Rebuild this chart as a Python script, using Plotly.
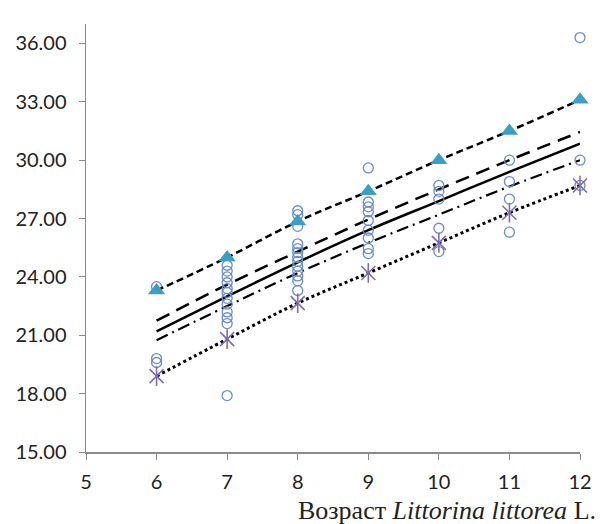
import plotly.graph_objects as go

# Observed shell sizes (circles)
obs_x = [6, 6, 6,
         7, 7, 7, 7, 7, 7, 7, 7, 7, 7, 7, 7,
         8, 8, 8, 8, 8, 8, 8, 8, 8, 8, 8, 8, 8,
         9, 9, 9, 9, 9, 9, 9, 9, 9,
         10, 10, 10, 10, 10,
         11, 11, 11, 11,
         12, 12, 12]
obs_y = [23.5, 19.8, 19.6,
         24.6, 24.3, 24.0, 23.7, 23.4, 23.2, 22.9, 22.6, 22.2, 21.9, 21.6, 17.9,
         27.4, 27.2, 26.6, 25.7, 25.45, 25.25, 25.0, 24.8, 24.55, 24.3, 24.05, 23.8, 23.3,
         29.6, 27.85, 27.6, 27.35, 26.9, 26.4, 26.0, 25.45, 25.2,
         28.7, 28.4, 28.0, 26.5, 25.3,
         30.0, 28.9, 28.0, 26.3,
         36.3, 30.0, 28.7]

ages = [6, 7, 8, 9, 10, 11, 12]
upper = [23.3, 25.0, 26.85, 28.4, 30.0, 31.5, 33.1]
lower = [18.9, 20.8, 22.65, 24.2, 25.75, 27.3, 28.7]
mean_curve = [21.2, 23.0, 24.75, 26.4, 27.9, 29.4, 30.85]
mean_hi = [21.75, 23.6, 25.3, 26.95, 28.5, 30.0, 31.45]
mean_lo = [20.75, 22.5, 24.2, 25.75, 27.2, 28.65, 30.0]

y_ticks = [15, 18, 21, 24, 27, 30, 33, 36]
x_ticks = [5, 6, 7, 8, 9, 10, 11, 12]

fig = go.Figure()

line_specs = [
    (mean_hi, "14px,8px", 2.5),
    (mean_curve, "solid", 2.5),
    (mean_lo, "12px,5px,2px,5px", 2.2),
]
for ys, dash, w in line_specs:
    fig.add_trace(go.Scatter(x=ages, y=ys, mode="lines", line=dict(color="black", width=w, dash=dash, shape="spline"),
                             showlegend=False, hoverinfo="skip"))

fig.add_trace(go.Scatter(x=obs_x, y=obs_y, mode="markers",
                         marker=dict(symbol="circle-open", size=10, color="#6a8cc8", line=dict(width=1.3)),
                         showlegend=False, cliponaxis=False))

fig.add_trace(go.Scatter(x=ages, y=upper, mode="lines", line=dict(color="black", width=2.5, dash="7px,4px", shape="spline"),
                         showlegend=False, hoverinfo="skip"))
fig.add_trace(go.Scatter(x=ages, y=upper, mode="markers",
                         marker=dict(symbol="triangle-up", size=15, color="#3a9fc4"),
                         showlegend=False, cliponaxis=False))

fig.add_trace(go.Scatter(x=ages, y=lower, mode="lines", line=dict(color="black", width=3, dash="3px,3px", shape="spline"),
                         showlegend=False, hoverinfo="skip"))
fig.add_trace(go.Scatter(x=ages, y=lower, mode="markers",
                         marker=dict(symbol="x-thin-open", size=14, color="#7f6db0", line=dict(width=1.6, color="#7f6db0")),
                         showlegend=False, cliponaxis=False))
fig.add_trace(go.Scatter(x=ages, y=lower, mode="markers",
                         marker=dict(symbol="line-ns-open", size=14, color="#7f6db0", line=dict(width=1.6, color="#7f6db0")),
                         showlegend=False, cliponaxis=False))

axis_font = dict(family="Lato, Calibri, sans-serif", size=20, color="#222")
fig.update_xaxes(range=[5, 12], tickvals=x_ticks, ticks="outside", ticklen=6, tickcolor="#8a8a8a",
                 showline=True, linecolor="#8a8a8a", linewidth=1.5, showgrid=False, zeroline=False,
                 tickfont=axis_font, automargin=False, ticklabelstandoff=5)
fig.update_yaxes(range=[15, 37], tickvals=y_ticks, tickformat=".2f", ticks="outside", ticklen=6, tickcolor="#8a8a8a",
                 showline=True, linecolor="#8a8a8a", linewidth=1.5, showgrid=False, zeroline=False,
                 tickfont=axis_font, automargin=False, ticklabelstandoff=8)

fig.add_annotation(text="Возраст <i>Littorina littorea</i> L.", xref="paper", yref="paper",
                   x=1.0364, y=-0.136, xanchor="right", yanchor="middle", showarrow=False,
                   font=dict(family="Liberation Serif, Times New Roman, serif", size=26, color="#222"))

fig.update_layout(width=600, height=524, margin=dict(l=86, r=20, t=24, b=72),
                  plot_bgcolor="white", paper_bgcolor="white", hovermode=False)

fig.write_html("out.html", config={"displayModeBar": False, "staticPlot": True},
               post_script="document.body.style.margin='0';document.body.style.overflow='hidden';")
